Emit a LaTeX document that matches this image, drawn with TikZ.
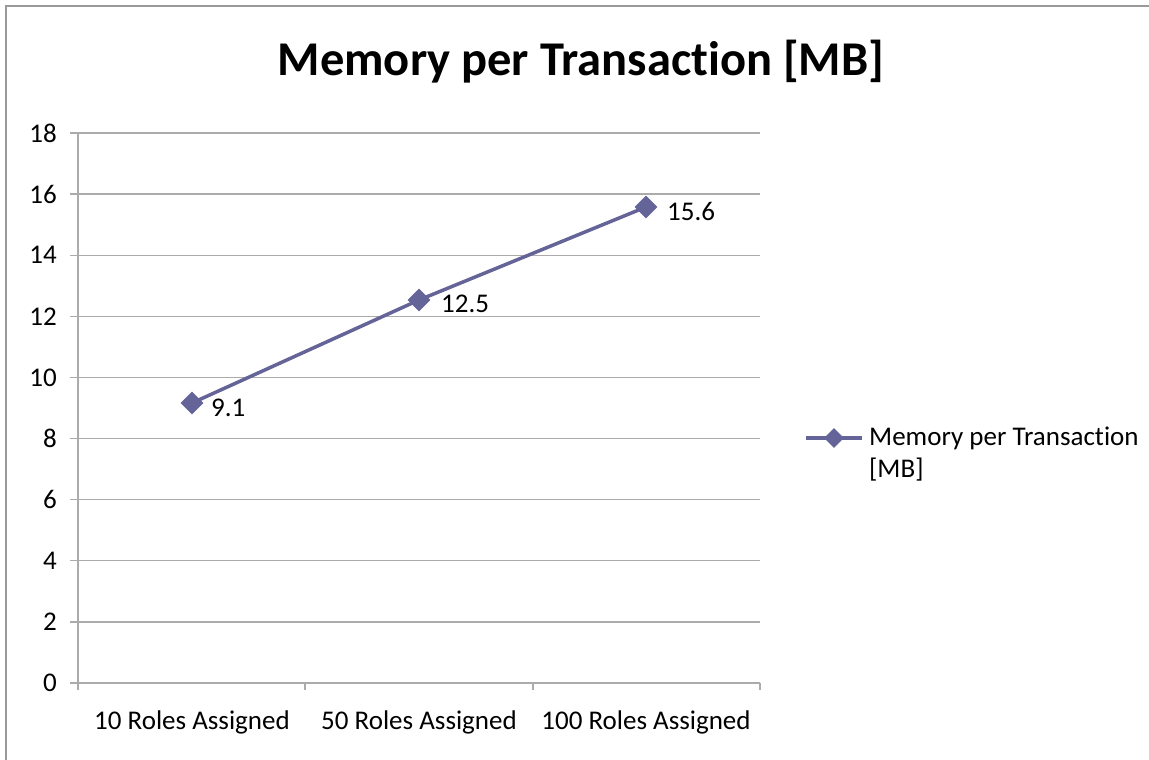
\documentclass[tikz,border=0pt]{standalone}
\usepackage{fontspec}
\setmainfont[Ligatures={NoCommon}]{Carlito}
\usetikzlibrary{shapes.geometric}
\definecolor{gridgray}{HTML}{ABABAB}
\definecolor{framegray}{HTML}{9A9A9A}
\definecolor{series}{HTML}{646498}
\tikzset{
  labfont/.style={font=\fontsize{27}{32}\selectfont},
  gridline/.style={draw=gridgray, line width=1.4pt},
  ylab/.style={labfont, anchor=east, inner sep=0pt},
  xlab/.style={labfont, anchor=center, inner sep=0pt},
  datalab/.style={labfont, anchor=west, inner sep=0pt},
  marker/.style={diamond, fill=series, draw=none, minimum size=23pt, inner sep=0pt},
  seriesline/.style={draw=series, line width=3.5pt}
}
\begin{document}
\begin{tikzpicture}[x=1pt, y=-1pt]
  \useasboundingbox (0,0) rectangle (1149,760);
  \fill[white] (0,0) rectangle (1149,760);
  % outer chart frame (only top and left edges inside the page)
  \draw[framegray, line width=2pt] (6,770) -- (6,6.5) -- (1160,6.5);
  % title
  \node[font=\fontsize{48.5}{56}\selectfont\bfseries, inner sep=0pt] (title) at (581,62) {Memory per Transaction [MB]};
  % horizontal gridlines and y ticks
  \foreach \v [count=\i from 0] in {0,2,...,18} {
    \pgfmathsetmacro{\yy}{683-\i*61.11}
    \draw[gridline] (70,\yy) -- (760,\yy);
    \node[ylab] (y\v) at (57,\yy) {\v};
  }
  % vertical axis
  \draw[gridline] (78,133) -- (78,690);
  % category ticks
  \foreach \xx in {305,533,760} \draw[gridline] (\xx,683) -- (\xx,690);
  % category labels
  \node[xlab] (c1) at (192,722) {10 Roles Assigned};
  \node[xlab] (c2) at (419,722) {50 Roles Assigned};
  \node[xlab] (c3) at (646,722) {100 Roles Assigned};
  % data points
  \coordinate (p1) at (192,403);
  \coordinate (p2) at (419,300);
  \coordinate (p3) at (646,207);
  \draw[seriesline] (p1) -- (p2) -- (p3);
  \node[marker] (m1) at (p1) {};
  \node[marker] (m2) at (p2) {};
  \node[marker] (m3) at (p3) {};
  \node[datalab] (l1) at (211,408) {9.1};
  \node[datalab] (l2) at (441,304) {12.5};
  \node[datalab] (l3) at (667,211) {15.6};
  % legend
  \coordinate (ga) at (806,438);
  \coordinate (gb) at (862,438);
  \draw[seriesline] (ga) -- (gb);
  \node[marker, minimum size=20pt] (gm) at (834,438) {};
  \node[anchor=north west, align=left, inner sep=0pt,
        font=\fontsize{27}{32}\selectfont] (legend) at (869,427)
        {Memory per Transaction\\{}[MB]};
\end{tikzpicture}
\end{document}
